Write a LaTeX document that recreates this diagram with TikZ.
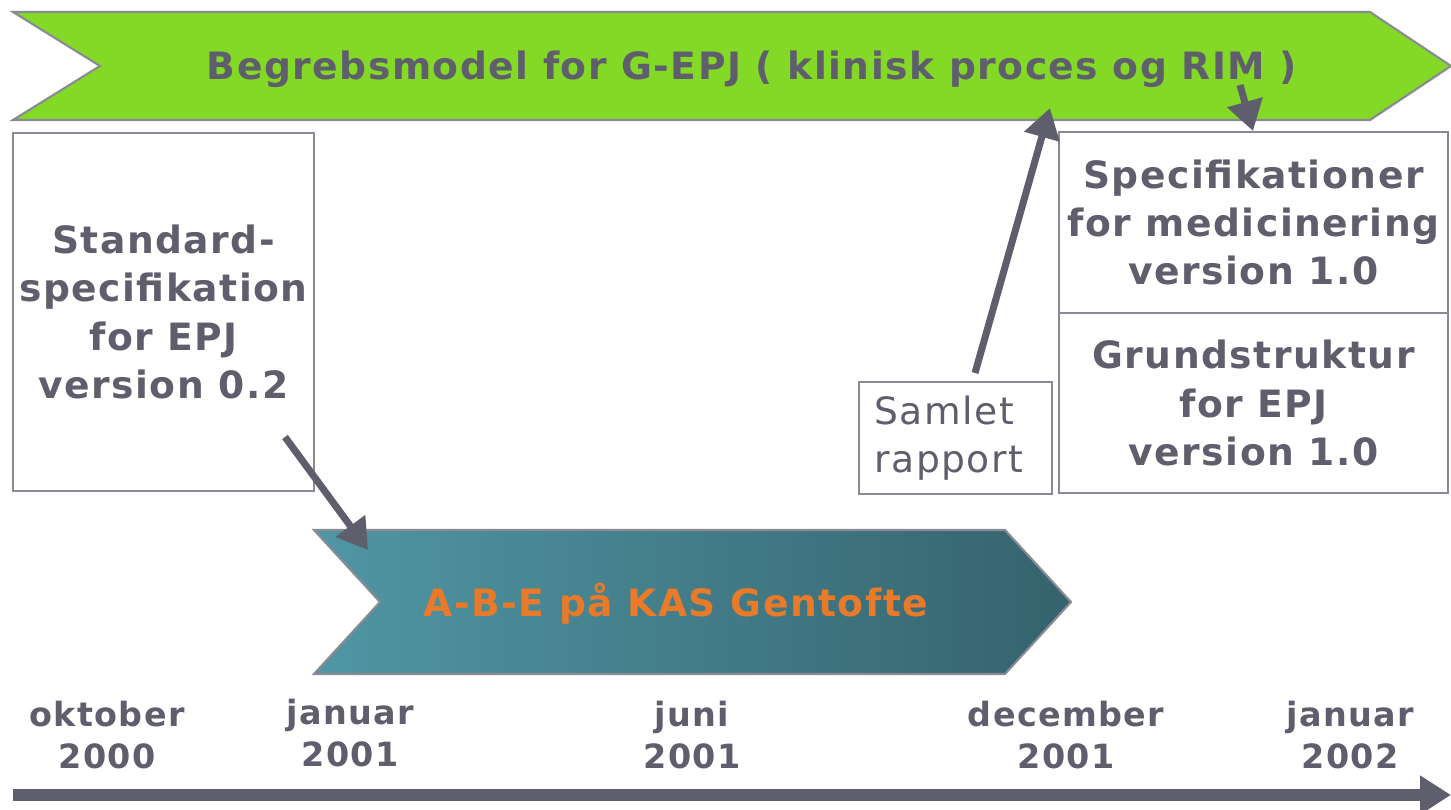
\documentclass[tikz,border=0pt]{standalone}
\usepackage{fontspec}
\setmainfont{DejaVu Sans}[LetterSpace=4]
\usetikzlibrary{arrows.meta}

\definecolor{bannergreen}{HTML}{84D826}
\definecolor{txtgrey}{HTML}{5F5E6C}
\definecolor{boxgrey}{HTML}{8A8A94}
\definecolor{tealL}{HTML}{5096A4}
\definecolor{tealM}{HTML}{437D89}
\definecolor{tealR}{HTML}{35636D}
\definecolor{abeorange}{HTML}{E87A2A}

\tikzset{
  box/.style = {draw=boxgrey, line width=0.6pt, inner sep=0pt},
  bold/.style = {text=txtgrey, align=center, font=\bfseries\fontsize{10.7}{13.7}\selectfont},
  datelbl/.style = {text=txtgrey, align=center, font=\bfseries\fontsize{9.5}{11.7}\selectfont},
  pil/.style = {draw=txtgrey, line width=2pt, -{Triangle[length=8.5pt,width=10pt]}},
}

\begin{document}
\begin{tikzpicture}[x=0.01cm, y=-0.01cm]
        \useasboundingbox (0,0) rectangle (1451,810);

        % banners
        \draw[fill=bannergreen, draw=boxgrey, line width=0.6pt]
                (13,12) -- (1370,12) -- (1451,66) -- (1370,120) -- (13,120) -- (100,66) -- cycle;
        \shade[left color=tealL, middle color=tealM, right color=tealR, draw=boxgrey, line width=0.6pt]
                (314,530) -- (1005,530) -- (1071,602) -- (1005,674) -- (314,674) -- (380,602) -- cycle;
        \node[bold] (begreb) at (752,69) {Begrebsmodel for G-EPJ ( klinisk proces og RIM )};
        \node[bold, text=abeorange] (abe) at (676,604) {A-B-E på KAS Gentofte};

        % boxes
        \node[box, bold, minimum width=3.01cm, minimum height=3.58cm] (standard) at (163.5,312)
                {Standard-\\specifikation\\for EPJ\\version 0.2};
        \node[box, bold, minimum width=3.89cm, minimum height=1.81cm] (spec) at (1253.5,222.5)
                {Specifikationer\\for medicinering\\version 1.0};
        \node[box, bold, minimum width=3.89cm, minimum height=1.80cm] (grund) at (1253.5,403)
                {Grundstruktur\\for EPJ\\version 1.0};
        \node[box, text=txtgrey, align=left, text width=1.62cm, minimum width=1.93cm, minimum height=1.12cm,
                font=\fontsize{10.7}{13.7}\selectfont] (samlet) at (955.5,438) {Samlet\\rapport};

        % dates
        \node[datelbl] (okt00) at (107,735) {oktober\\2000};
        \node[datelbl] (jan01) at (350,733) {januar\\2001};
        \node[datelbl] (jun01) at (692,735) {juni\\2001};
        \node[datelbl] (dec01) at (1066,735) {december\\2001};
        \node[datelbl] (jan02) at (1350,735) {januar\\2002};

        % arrows
        \coordinate (s1) at (285,437);
        \coordinate (e1) at (368,550);
        \coordinate (s2) at (975,373);
        \coordinate (e2) at (1050,108);
        \coordinate (s3) at (1240,85);
        \coordinate (e3) at (1253,131);
        \coordinate (t0) at (13,795);
        \coordinate (t1) at (1451,795);
        \draw[pil] (s1) -- (e1);
        \draw[pil] (s2) -- (e2);
        \draw[pil] (s3) -- (e3);
        \draw[draw=txtgrey, line width=3.4pt, -{Triangle[length=8.8pt,width=10.5pt]}] (t0) -- (t1);

\end{tikzpicture}
\end{document}
